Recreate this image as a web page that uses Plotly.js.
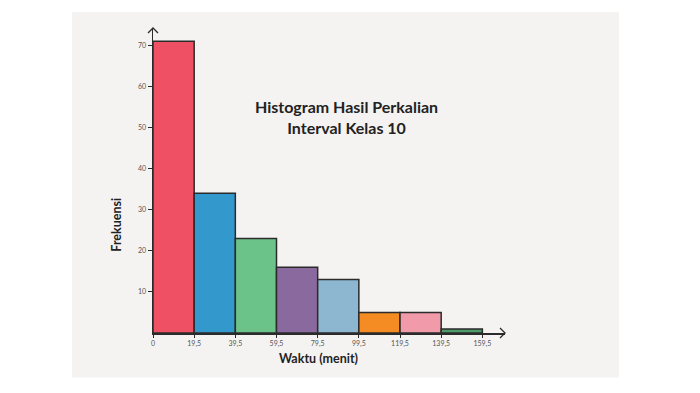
<!DOCTYPE html>
<html>
<head>
<meta charset="utf-8">
<script src="https://cdn.plot.ly/plotly-3.0.1.min.js"></script>
<style>html,body{margin:0;padding:0;background:#fff;}#chart{width:700px;height:393px;}</style>
</head>
<body>
<div id="chart"></div>
<script>
// Data
const classIntervals = ["0–19,5","19,5–39,5","39,5–59,5","59,5–79,5","79,5–99,5","99,5–119,5","119,5–139,5","139,5–159,5"];
const frequencies = [71, 34, 23, 16, 13, 5, 5, 1];
const edgeLabels = ["0","19,5","39,5","59,5","79,5","99,5","119,5","139,5","159,5"];
const barColors = ["#EF5063","#3399CC","#6CC38A","#8A6A9E","#8DB7D0","#F58C23","#F09AAA","#4E9A6A"];
const chartTitle = "Histogram Hasil Perkalian<br>Interval Kelas 10";

const xCenters = classIntervals.map((_, i) => i + 0.5);
const edgeVals = edgeLabels.map((_, i) => i);

const trace = {
  type: "bar",
  x: xCenters,
  y: frequencies,
  width: classIntervals.map(() => 1),
  text: classIntervals,
  hoverinfo: "text+y",
  textposition: "none",
  marker: { color: barColors, line: { color: "#2b2b2b", width: 1.5 } }
};

const L = 153, R = 505, T = 28, B = 333.5;
const px = v => (v - L) / (R - L);
const py = v => (B - v) / (B - T);

const layout = {
  width: 700, height: 393,
  margin: { l: L, r: 700 - R, t: T, b: 393 - B, pad: 0 },
  paper_bgcolor: "#ffffff",
  plot_bgcolor: "rgba(0,0,0,0)",
  showlegend: false,
  font: { family: "Lato, 'Open Sans', sans-serif", color: "#333" },
  xaxis: {
    range: [0, 8.55],
    tickmode: "array", tickvals: edgeVals, ticktext: edgeLabels,
    ticks: "outside", ticklen: 3, tickcolor: "#2b2b2b", tickwidth: 1,
    showline: true, linecolor: "#2b2b2b", linewidth: 1.5,
    showgrid: false, zeroline: false,
    tickfont: { size: 7, color: "#555" }
  },
  yaxis: {
    range: [0, 74.2],
    tickmode: "array", tickvals: [10,20,30,40,50,60,70],
    ticks: "outside", ticklen: 4, tickcolor: "#2b2b2b", tickwidth: 1,
    showline: true, linecolor: "#2b2b2b", linewidth: 1.5,
    showgrid: false, zeroline: false,
    tickfont: { size: 7, color: "#555" }
  },
  annotations: [
    { text: chartTitle, xref: "paper", yref: "paper", x: px(346), y: py(117.5),
      xanchor: "center", yanchor: "middle", showarrow: false, align: "center",
      font: { family: "Lato, sans-serif", size: 16, color: "#222", weight: 700 } },
    { text: "Frekuensi", xref: "paper", yref: "paper", x: px(117), y: py(225),
      xanchor: "center", yanchor: "middle", textangle: -90, showarrow: false,
      font: { size: 12.5, color: "#222", weight: 700 } },
    { text: "Waktu (menit)", xref: "paper", yref: "paper", x: px(318), y: py(359),
      xanchor: "center", yanchor: "middle", showarrow: false,
      font: { size: 12.5, color: "#222", weight: 700 } }
  ],
  shapes: [
    { type: "rect", xref: "paper", yref: "paper", layer: "below",
      x0: px(72), x1: px(619), y0: py(378), y1: py(12),
      fillcolor: "#F4F3F2", line: { width: 0 } },
    { type: "path", xref: "paper", yref: "paper",
      path: `M ${px(148)} ${py(33)} L ${px(153)} ${py(28)} L ${px(158)} ${py(33)}`,
      line: { color: "#2b2b2b", width: 1.3 } },
    { type: "path", xref: "paper", yref: "paper",
      path: `M ${px(500)} ${py(328.5)} L ${px(505)} ${py(333.5)} L ${px(500)} ${py(338.5)}`,
      line: { color: "#2b2b2b", width: 1.3 } }
  ]
};

Plotly.newPlot("chart", [trace], layout, { displayModeBar: false, staticPlot: true });
</script>
</body>
</html>
